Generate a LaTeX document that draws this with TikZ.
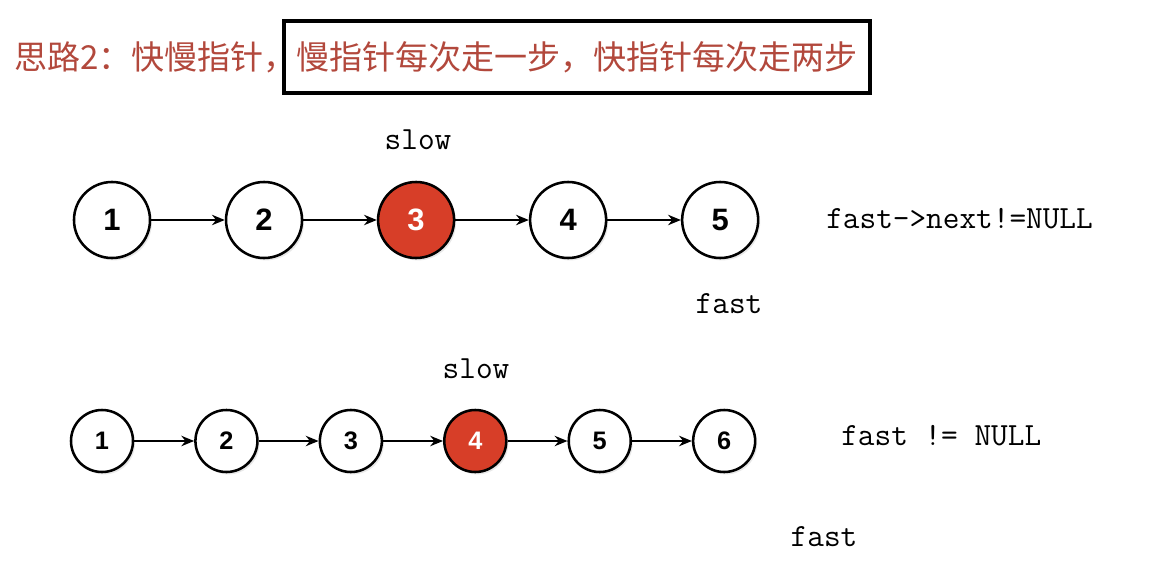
\documentclass[tikz,border=0pt]{standalone}
\usepackage{fontspec}
\setsansfont{Liberation Sans}
\newfontfamily\cjk{Noto Sans CJK SC}
\usetikzlibrary{arrows.meta,positioning,shadows}
\definecolor{titlered}{RGB}{178,72,60}
\definecolor{nodered}{RGB}{215,62,40}
\tikzset{
  list node/.style = {circle, draw, line width=1.8pt, fill=white, inner sep=0pt, outer sep=0pt,
                      font=\sffamily\bfseries,
                      drop shadow={opacity=0.18, shadow xshift=0.5mm, shadow yshift=-0.6mm}},
  big node/.style  = {list node, minimum size=1.9cm, font=\sffamily\bfseries\fontsize{22}{22}\selectfont},
  small node/.style= {list node, minimum size=1.55cm, font=\sffamily\bfseries\fontsize{18}{18}\selectfont},
  hot/.style       = {fill=nodered, text=white},
  link/.style      = {-{Stealth[length=3.2mm,width=2.6mm]}, line width=1.3pt, shorten <=0.9pt, shorten >=0.9pt},
  code/.style      = {font=\ttfamily\fontsize{23}{23}\selectfont, inner sep=0pt},
  title/.style     = {font=\cjk\fontsize{23.5}{23.5}\selectfont, text=titlered, inner sep=0pt},
}

\begin{document}
\begin{tikzpicture}[x=0.025cm, y=-0.025cm]
  \useasboundingbox (0,0) rectangle (1162,565);

  \node[title, anchor=west] (idea) at (14,57) {思路2：快慢指针，};
  \node[title, draw=black, line width=2.8pt, minimum width=14.65cm, minimum height=1.82cm]
       (rule) at (577,57) {慢指针每次走一步，快指针每次走两步};

  \node[big node] (a1) at (112,220) {1};
  \node[big node, right=1.9cm of a1] (a2) {2};
  \node[big node, hot, right=1.9cm of a2] (a3) {3};
  \node[big node, right=1.9cm of a3] (a4) {4};
  \node[big node, right=1.9cm of a4] (a5) {5};
  \draw[link] (a1) -- (a2);
  \draw[link] (a2) -- (a3);
  \draw[link] (a3) -- (a4);
  \draw[link] (a4) -- (a5);
  \node[code] (slowA) at (418,140) {slow};
  \node[code] (fastA) at (729,304) {fast};
  \node[code, anchor=west] (condA) at (826,219) {fast->next!=NULL};

  \node[small node] (b1) at (102,441) {1};
  \node[small node, right=1.56cm of b1] (b2) {2};
  \node[small node, right=1.56cm of b2] (b3) {3};
  \node[small node, hot, right=1.56cm of b3] (b4) {4};
  \node[small node, right=1.56cm of b4] (b5) {5};
  \node[small node, right=1.56cm of b5] (b6) {6};
  \draw[link] (b1) -- (b2);
  \draw[link] (b2) -- (b3);
  \draw[link] (b3) -- (b4);
  \draw[link] (b4) -- (b5);
  \draw[link] (b5) -- (b6);
  \node[code] (slowB) at (476,369) {slow};
  \node[code] (fastB) at (824,537) {fast};
  \node[code, anchor=west] (condB) at (841,436) {fast != NULL};
\end{tikzpicture}
\end{document}
